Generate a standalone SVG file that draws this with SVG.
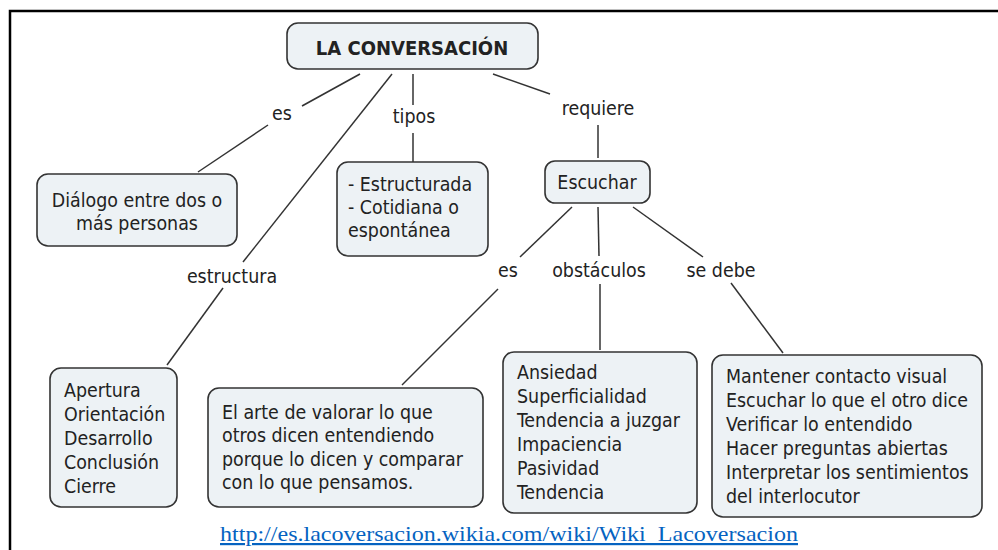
<svg xmlns="http://www.w3.org/2000/svg" width="998" height="550" viewBox="0 0 998 550">
<style>
.node rect{fill:#edf2f5;stroke:#333;stroke-width:1.6}
.t{font-family:"DejaVu Sans Condensed","DejaVu Sans",Verdana,sans-serif;font-stretch:condensed;font-size:19.4px;fill:#222}
.c{text-anchor:middle}
.b{font-weight:bold;font-size:20px}
#connectors line{stroke:#333;stroke-width:1.5}
.lbl{font-family:"DejaVu Sans Condensed","DejaVu Sans",Verdana,sans-serif;font-stretch:condensed;font-size:19.4px;fill:#222;text-anchor:middle}
</style>
<rect width="998" height="550" fill="#fff"/>
<path d="M10,560 V11 H1010" fill="none" stroke="#000" stroke-width="2.5"/>

<g id="connectors">
<line x1="360" y1="74" x2="302" y2="106"/>
<line x1="268" y1="125" x2="198" y2="172"/>
<line x1="392" y1="74" x2="243" y2="262"/>
<line x1="223" y1="288" x2="167" y2="365"/>
<line x1="413" y1="74" x2="413" y2="105"/>
<line x1="413" y1="133" x2="413" y2="162"/>
<line x1="493" y1="74" x2="550" y2="94"/>
<line x1="598" y1="125" x2="598" y2="158"/>
<line x1="572" y1="207" x2="520" y2="257"/>
<line x1="498" y1="289" x2="402" y2="385"/>
<line x1="598" y1="207" x2="599" y2="256"/>
<line x1="600" y1="284" x2="600" y2="350"/>
<line x1="633" y1="207" x2="703" y2="257"/>
<line x1="731" y1="283" x2="783" y2="353"/>
<text class="lbl" x="282" y="120">es</text>
<text class="lbl" x="232" y="283">estructura</text>
<text class="lbl" x="414" y="123">tipos</text>
<text class="lbl" x="598" y="115">requiere</text>
<text class="lbl" x="508" y="277">es</text>
<text class="lbl" x="599" y="277">obstáculos</text>
<text class="lbl" x="721" y="277">se debe</text>
</g>

<g id="main" class="node">
<rect x="287" y="23" width="251" height="46" rx="11"/>
<text class="t c b" x="412" y="55">LA CONVERSACIÓN</text>
</g>

<g id="dialogo" class="node">
<rect x="37" y="174" width="200" height="72" rx="11"/>
<text class="t c" x="137" y="207">Diálogo entre dos o</text>
<text class="t c" x="137" y="230">más personas</text>
</g>

<g id="tipos" class="node">
<rect x="337" y="162" width="151" height="94" rx="11"/>
<text class="t" x="348" y="191">- Estructurada</text>
<text class="t" x="348" y="214">- Cotidiana o</text>
<text class="t" x="348" y="237">espontánea</text>
</g>

<g id="escuchar" class="node">
<rect x="545" y="161" width="105" height="42" rx="10"/>
<text class="t c" x="597" y="189">Escuchar</text>
</g>

<g id="estructura" class="node">
<rect x="50" y="368" width="127" height="139" rx="11"/>
<text class="t" x="64" y="397">Apertura</text>
<text class="t" x="64" y="421">Orientación</text>
<text class="t" x="64" y="445">Desarrollo</text>
<text class="t" x="64" y="469">Conclusión</text>
<text class="t" x="64" y="493">Cierre</text>
</g>

<g id="arte" class="node">
<rect x="208" y="388" width="275" height="119" rx="11"/>
<text class="t" x="222" y="419">El arte de valorar lo que</text>
<text class="t" x="222" y="442">otros dicen entendiendo</text>
<text class="t" x="222" y="466">porque lo dicen y comparar</text>
<text class="t" x="222" y="489">con lo que pensamos.</text>
</g>

<g id="obstaculos" class="node">
<rect x="503" y="352" width="194" height="161" rx="11"/>
<text class="t" x="517" y="379">Ansiedad</text>
<text class="t" x="517" y="403">Superficialidad</text>
<text class="t" x="517" y="427">Tendencia a juzgar</text>
<text class="t" x="517" y="451">Impaciencia</text>
<text class="t" x="517" y="475">Pasividad</text>
<text class="t" x="517" y="499">Tendencia</text>
</g>

<g id="sedebe" class="node">
<rect x="712" y="355" width="270" height="162" rx="11"/>
<text class="t" x="726" y="383">Mantener contacto visual</text>
<text class="t" x="726" y="407">Escuchar lo que el otro dice</text>
<text class="t" x="726" y="431">Verificar lo entendido</text>
<text class="t" x="726" y="455">Hacer preguntas abiertas</text>
<text class="t" x="726" y="479">Interpretar los sentimientos</text>
<text class="t" x="726" y="503">del interlocutor</text>
</g>

<g id="link">
<text x="220" y="541" font-family="'Liberation Serif','Times New Roman',serif" font-size="22" fill="#0563c1" text-decoration="underline" textLength="578" lengthAdjust="spacingAndGlyphs">http://es.lacoversacion.wikia.com/wiki/Wiki_Lacoversacion</text>
</g>
</svg>
